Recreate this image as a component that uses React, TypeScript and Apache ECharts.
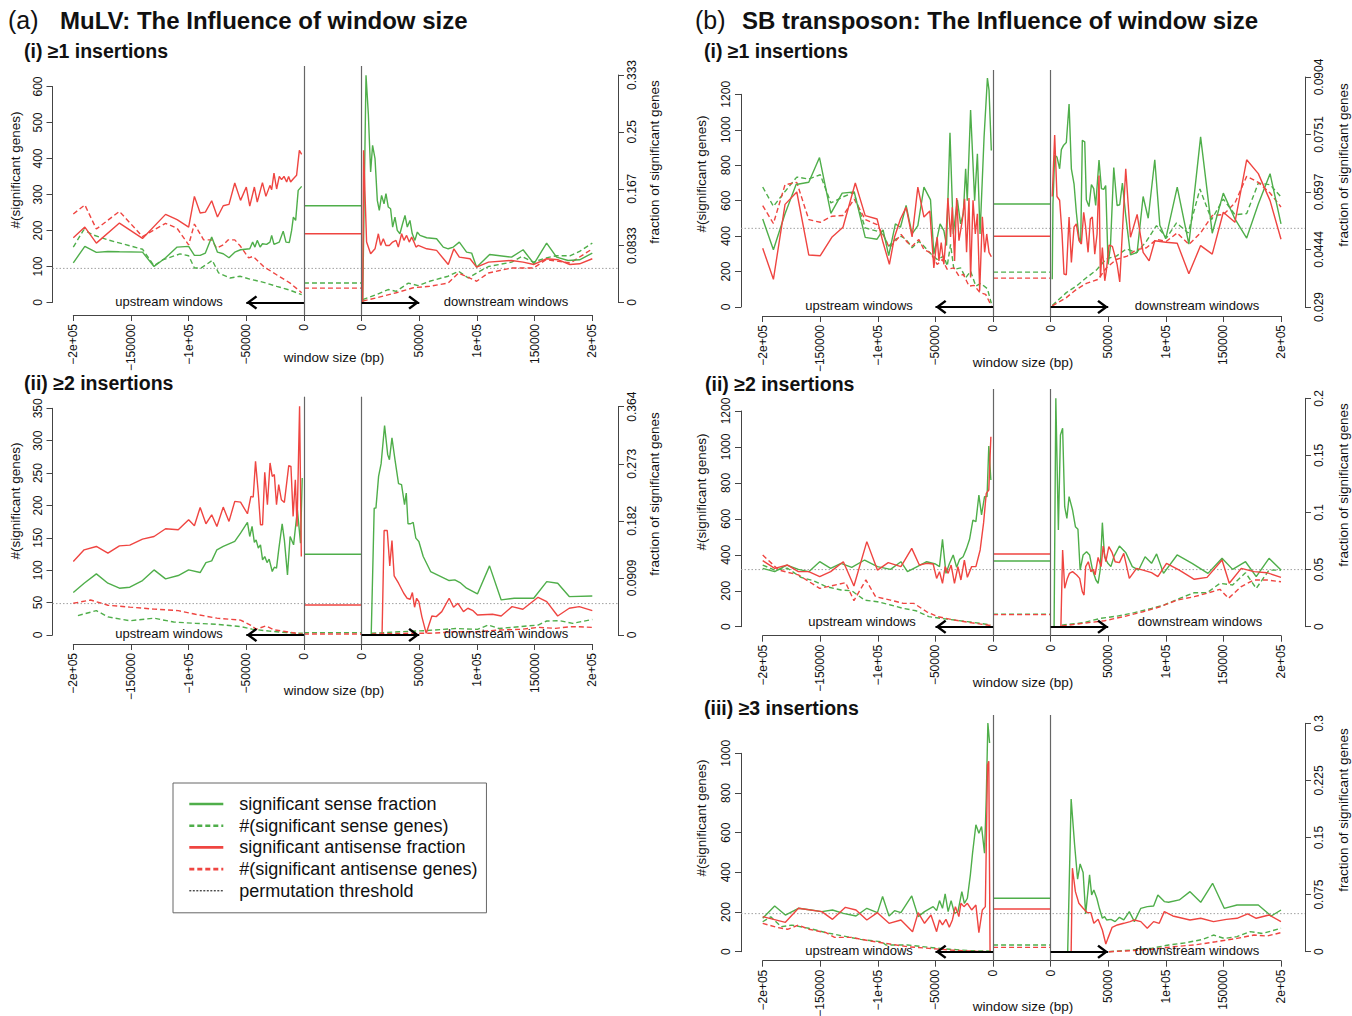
import React, { useEffect, useRef } from "react";
import * as echarts from "echarts";

type Pt = [number, number];

// ---------------- names / labels ----------------
const NAME_SENSE_FRAC = "significant sense fraction";
const NAME_SENSE_N = "#(significant sense genes)";
const NAME_ANTI_FRAC = "significant antisense fraction";
const NAME_ANTI_N = "#(significant antisense genes)";
const NAME_THRESH = "permutation threshold";

const X_TICK_LABELS = ["\u22122e+05", "\u2212150000", "\u22121e+05", "\u221250000", "0", "0", "50000", "1e+05", "150000", "2e+05"];
const THRESHOLD = 0.05;

// fraction-axis tick labels per panel
const A1_FRAC_LABELS = ["0", "0.0833", "0.167", "0.25", "0.333"];
const A2_FRAC_LABELS = ["0", "0.0909", "0.182", "0.273", "0.364"];
const B1_FRAC_LABELS = ["0.029", "0.0444", "0.0597", "0.0751", "0.0904"];
const B2_FRAC_LABELS = ["0", "0.05", "0.1", "0.15", "0.2"];
const B3_FRAC_LABELS = ["0", "0.075", "0.15", "0.225", "0.3"];

// ---------------- data: (a)(i) MuLV >=1 insertions ----------------
// x in kb, fraction values / gene counts
const A1_UP_SENSE_FRAC: Pt[] = [[-200,0.0582],[-190,0.0822],[-180,0.0734],[-170,0.0748],[-160,0.0743],[-140,0.0738],[-130,0.0528],[-120,0.0655],[-110,0.0812],[-100,0.0822],[-95,0.069],[-90,0.069],[-85.5,0.0724],[-80,0.0958],[-75,0.0738],[-70,0.0714],[-65,0.0655],[-60,0.0738],[-55,0.0773],[-47,0.0787],[-44.5,0.0885],[-42.5,0.0812],[-40.5,0.091],[-38,0.0812],[-36,0.0861],[-32.4,0.0851],[-29.5,0.0885],[-28,0.0983],[-26,0.0851],[-21.4,0.0885],[-18,0.1046],[-15.6,0.0885],[-12.7,0.088],[-10.7,0.1056],[-9.2,0.1252],[-7.2,0.1203],[-5,0.1643],[-2,0.1702]];
const A1_UP_SENSE_N: Pt[] = [[-200,154],[-191,202],[-183,188],[-170,174],[-140,148],[-130,102],[-122,119],[-107.5,135],[-100,130],[-95,96],[-89,96],[-79.5,117],[-74,82],[-64,68],[-55.5,73],[-47,65],[-35,56],[-23.7,45],[-12,34],[-2,22]];
const A1_UP_ANTI_FRAC: Pt[] = [[-200,0.0949],[-190,0.1105],[-180,0.087],[-160,0.1164],[-140,0.0939],[-120,0.1291],[-110,0.1213],[-100,0.1105],[-95,0.1555],[-90,0.1311],[-85.5,0.1325],[-80,0.1491],[-75,0.1252],[-70,0.1418],[-65,0.1438],[-60,0.1751],[-55,0.1496],[-50,0.1692],[-47,0.1413],[-43,0.1692],[-40.5,0.1472],[-36,0.1756],[-33,0.1555],[-29.5,0.1716],[-28,0.1653],[-26,0.1897],[-23.7,0.1663],[-21.4,0.1848],[-19.4,0.18],[-17.3,0.1848],[-15,0.1765],[-13.3,0.1848],[-11.6,0.1765],[-9.2,0.1814],[-6.4,0.1863],[-4,0.223],[-2,0.2171]];
const A1_UP_ANTI_N: Pt[] = [[-200,246],[-190,271],[-180,204],[-160,253],[-140,183],[-120,220],[-110,206],[-100,160],[-95,218],[-87,174],[-80,174],[-75.7,151],[-70,160],[-65.6,174],[-60,174],[-55,156],[-48,124],[-44,128],[-35,100],[-23.7,77],[-12,54],[-2,27]];
const A1_MID = { senseFrac: 0.1418, senseN: 54, antiFrac: 0.1007, antiN: 40 };
const A1_DOWN_SENSE_FRAC: Pt[] = [[0.9,0],[3.8,0.333],[5.8,0.2768],[7.8,0.1912],[9.5,0.2303],[11.6,0.2108],[13.6,0.1496],[15.3,0.135],[17.3,0.157],[19.4,0.1447],[21.1,0.1594],[23.1,0.1399],[25.1,0.1374],[26.9,0.1105],[28.9,0.1252],[30.9,0.1056],[33.2,0.1007],[35.5,0.1154],[37.6,0.1276],[39.6,0.1105],[41.9,0.1203],[43.9,0.1007],[46.2,0.091],[48.3,0.1032],[50.6,0.0983],[56.4,0.0949],[65,0.0934],[70.8,0.0812],[75.1,0.0787],[79.5,0.0812],[84.7,0.0885],[91,0.0738],[95.4,0.0724],[99.7,0.0518],[111,0.0704],[130,0.0665],[140,0.0773],[149.4,0.0567],[160.4,0.087],[169,0.0665],[179,0.0616],[189,0.0626],[200,0.0724]];
const A1_DOWN_SENSE_N: Pt[] = [[0.9,8],[13,22],[23,36],[30,31],[40.5,54],[49,47],[59,59],[75,73],[84,87],[92.5,68],[99.7,82],[110,100],[130,112],[139,128],[149,112],[160,124],[169,130],[181,130],[189,142],[200,165]];
const A1_DOWN_ANTI_FRAC: Pt[] = [[0.9,0],[1.7,0.223],[4.3,0.0885],[7.8,0.0714],[11.6,0.0787],[14.5,0.1007],[16.5,0.0836],[18.8,0.0934],[21.1,0.0836],[24,0.0836],[26.9,0.0885],[29.8,0.091],[31.8,0.0812],[34.7,0.1007],[36.7,0.091],[39,0.0983],[41.3,0.0885],[43.4,0.0958],[45.4,0.0885],[47.1,0.0812],[49.1,0.0836],[56.4,0.0787],[65,0.0763],[75.1,0.0557],[80,0.0787],[84.7,0.0665],[94,0.0641],[99.7,0.0518],[110,0.0592],[130,0.0616],[140,0.0592],[149.4,0.0557],[160.4,0.0641],[170.5,0.0626],[180.6,0.0557],[189,0.0567],[200,0.0641]];
const A1_DOWN_ANTI_N: Pt[] = [[0.9,4],[13,13],[30,27],[44.8,41],[59,45],[75,54],[84,82],[99.7,59],[110,82],[130,96],[149,96],[160,119],[181,110],[200,149]];

// ---------------- data: (a)(ii) MuLV >=2 insertions ----------------
const A2_UP_SENSE_FRAC: Pt[] = [[-200,0.0676],[-190.6,0.0825],[-180,0.0974],[-170,0.0825],[-160,0.0745],[-151,0.0761],[-140,0.0867],[-130,0.1037],[-120,0.0894],[-109,0.0947],[-100,0.1037],[-90,0.0995],[-85,0.1154],[-80,0.1181],[-75.5,0.1357],[-70,0.141],[-60,0.149],[-55,0.1623],[-49,0.1793],[-47,0.1569],[-45,0.1729],[-43,0.1474],[-41.5,0.1516],[-39.6,0.1383],[-37.7,0.1436],[-35.9,0.1197],[-34,0.125],[-32,0.1154],[-30.2,0.1208],[-27.5,0.1011],[-25.7,0.108],[-23.8,0.1064],[-21.9,0.1357],[-18.9,0.1771],[-17,0.1516],[-14.3,0.0958],[-12,0.1569],[-9,0.1436],[-5.7,0.1995],[-3,0.1463],[-1.5,0.25]];
const A2_UP_SENSE_N: Pt[] = [[-196,30],[-180,37.6],[-170,28],[-151,22],[-130,26],[-113,20],[-94,18],[-75.5,16.5],[-55,13],[-45,9],[-30,6],[-15,3.6],[-1,2.6]];
const A2_UP_ANTI_FRAC: Pt[] = [[-200,0.117],[-190.6,0.1357],[-180,0.141],[-170,0.1303],[-160,0.142],[-151,0.1431],[-140,0.1527],[-130,0.1569],[-120,0.1692],[-109,0.1676],[-100,0.1835],[-95,0.174],[-90,0.2032],[-85,0.1772],[-80,0.1915],[-75.5,0.1729],[-70,0.2037],[-65,0.1809],[-60,0.2128],[-55,0.2117],[-49,0.1931],[-46,0.2208],[-44,0.2197],[-42,0.2766],[-39.6,0.2261],[-37.7,0.1756],[-35.9,0.1756],[-34,0.2591],[-31.7,0.2075],[-29.4,0.274],[-27.5,0.2527],[-25.7,0.2554],[-23.8,0.2075],[-21.9,0.2394],[-19.6,0.2155],[-17,0.2112],[-13.2,0.2697],[-11.3,0.2687],[-9.4,0.1889],[-7.5,0.2474],[-6,0.1729],[-3.8,0.3644],[-2.3,0.125]];
const A2_UP_ANTI_N: Pt[] = [[-200,49],[-185,54],[-170,46],[-151,43],[-130,40],[-109,37.6],[-94,32],[-75.5,26],[-55,23],[-46,15],[-41.5,9],[-33,14],[-26,8],[-15,5],[-1,1]];
const A2_MID = { senseFrac: 0.1287, senseN: 3.6, antiFrac: 0.0479, antiN: 1.5 };
const A2_DOWN_SENSE_FRAC: Pt[] = [[0,0],[8.3,0],[10.9,0.2021],[12.4,0.2021],[14.7,0.2527],[16.9,0.2729],[19.9,0.3336],[22.6,0.2873],[24.1,0.2793],[26.3,0.3139],[28.9,0.2793],[32,0.241],[34.6,0.2394],[37.2,0.2075],[38.7,0.2261],[40.2,0.1772],[42.5,0.1772],[44.7,0.1793],[47,0.1543],[49.6,0.149],[53.4,0.125],[59.8,0.1011],[75.9,0.0867],[80.8,0.0878],[85.3,0.0835],[91,0.0745],[100.4,0.0654],[110.9,0.1101],[121,0.0559],[132.3,0.0585],[149.2,0.0585],[160.5,0.0851],[170,0.0825],[180,0.0612],[200,0.0622]];
const A2_DOWN_SENSE_N: Pt[] = [[8.3,2.6],[32.7,5],[55,6.7],[81.6,10],[100.4,8.7],[109.8,15.4],[119,10],[138,13],[153,15.4],[160.5,21.6],[171.8,22],[183,18],[200,24]];
const A2_DOWN_ANTI_FRAC: Pt[] = [[0,0],[17.7,0],[19.5,0.1665],[22.2,0.1665],[24.4,0.1101],[26.3,0.1505],[28.2,0.0942],[32,0.0825],[36.5,0.0665],[39.5,0.0585],[42.1,0.0569],[44,0.0676],[45.9,0.0442],[47.7,0.0585],[49.6,0.0532],[52.2,0.0293],[56,0.0027],[60.9,0.0303],[64.7,0.0293],[69.5,0.0372],[75.9,0.0585],[79.7,0.0442],[83.5,0.0505],[88.3,0.0372],[92.1,0.0426],[96.6,0.0388],[100.4,0.0319],[113.5,0.033],[121,0.0303],[130.4,0.0452],[139.8,0.041],[153,0.0601],[160.5,0.0532],[170,0.0303],[180,0.0426],[188.7,0.0452],[200,0.0388]];
const A2_DOWN_ANTI_N: Pt[] = [[8.3,1.5],[40,2.6],[59,2.6],[81.6,5],[100.4,5],[119,7.7],[138,8.7],[153,11.8],[168,10.3],[183,13],[200,11.8]];

// ---------------- data: (b)(i) SB >=1 insertions ----------------
const B1_UP_SENSE_FRAC: Pt[] = [[-200,0.0525],[-190.7,0.0443],[-180.6,0.0539],[-171,0.0617],[-160,0.0623],[-150.7,0.0689],[-140.8,0.054],[-131,0.0594],[-120.5,0.0597],[-111,0.0476],[-100.7,0.0471],[-95.5,0.0496],[-90.6,0.0427],[-84.8,0.0512],[-80.4,0.0503],[-75.5,0.0561],[-70.3,0.0485],[-65.3,0.0507],[-60,0.061],[-54.3,0.0576],[-51.4,0.0431],[-46,0.0512],[-42.7,0.0494],[-40.4,0.0454],[-37.4,0.0755],[-34.5,0.0485],[-31,0.0576],[-28.2,0.0512],[-25.8,0.0539],[-23.8,0.0659],[-22.4,0.0574],[-19.5,0.0816],[-16,0.0574],[-13.6,0.0699],[-11.3,0.0485],[-7.8,0.0744],[-4.9,0.0901],[-3.5,0.0869],[-1.5,0.0708]];
const B1_UP_SENSE_N: Pt[] = [[-200,677],[-190.7,568],[-180.6,652],[-170.4,733],[-160,722],[-150,746],[-140.8,587],[-130.3,621],[-121,647],[-111,446],[-100.7,428],[-95.5,409],[-90.6,343],[-84.8,381],[-79.8,399],[-75.5,381],[-70.3,334],[-64.4,371],[-60,343],[-54.3,302],[-48.5,268],[-42.7,287],[-39.8,231],[-36.9,353],[-34,212],[-28.2,221],[-23.8,165],[-19.5,202],[-15,118],[-10.7,133],[-4.9,103],[-1.5,21]];
const B1_UP_ANTI_FRAC: Pt[] = [[-200,0.0447],[-190.7,0.0364],[-180.6,0.0564],[-170.4,0.0597],[-160,0.0429],[-150,0.0427],[-140,0.0476],[-130.3,0.0503],[-119.6,0.0621],[-111,0.0534],[-100.7,0.0525],[-95.5,0.0462],[-90,0.0404],[-85.6,0.0476],[-80.4,0.0525],[-75.5,0.0556],[-70.3,0.0477],[-65.3,0.061],[-60,0.053],[-54.9,0.0546],[-51.4,0.0394],[-48.5,0.0477],[-47,0.0413],[-45,0.0462],[-42.7,0.0404],[-40.9,0.0476],[-39.2,0.0581],[-36.9,0.0477],[-35.4,0.0556],[-33.4,0.0413],[-31.6,0.0581],[-29.6,0.0467],[-26.7,0.0521],[-24.7,0.0579],[-23,0.0436],[-20.9,0.0581],[-19.5,0.0369],[-17.4,0.0575],[-15.4,0.0485],[-13.6,0.0539],[-11.6,0.0333],[-9.3,0.0531],[-7.3,0.0436],[-5.5,0.0485],[-3.5,0.0436],[-1.5,0.0424]];
const B1_UP_ANTI_N: Pt[] = [[-200,572],[-190.7,471],[-180.6,690],[-170.4,703],[-160,493],[-150,478],[-140,512],[-130.3,516],[-120.5,609],[-111,493],[-100.7,465],[-95.5,409],[-90,334],[-84.8,371],[-79.8,409],[-74.6,366],[-70.3,343],[-64.4,381],[-60,324],[-54.3,306],[-48.5,240],[-44,268],[-39.8,212],[-34,221],[-29.6,174],[-25.8,184],[-20.9,118],[-16.5,122],[-11.3,81],[-6.4,71],[-1.5,6]];
const B1_MID = { senseFrac: 0.0565, senseN: 197, antiFrac: 0.0479, antiN: 163 };
const B1_DOWN_SENSE_FRAC: Pt[] = [[1.4,0.0364],[2,0.0565],[3.5,0.0695],[5.5,0.069],[7.8,0.0659],[9.3,0.071],[11.3,0.0722],[13.6,0.0729],[16,0.0832],[18,0.0659],[20.3,0.0619],[22.3,0.0543],[24.6,0.0476],[26.1,0.046],[27.5,0.0735],[29.6,0.0731],[31,0.0576],[33.3,0.0558],[35.4,0.0617],[37.4,0.0606],[39.1,0.0561],[42,0.0682],[44.1,0.0606],[46.1,0.0604],[47.8,0.0614],[49.9,0.0404],[51.9,0.0451],[54.8,0.0662],[57.7,0.0561],[60,0.0563],[62.3,0.0621],[65.2,0.0534],[69.3,0.0429],[75.1,0.0436],[80.3,0.0585],[84.7,0.0527],[90.4,0.0683],[94.8,0.0508],[99.9,0.0472],[109.9,0.061],[120,0.0458],[130.2,0.0744],[140.3,0.0487],[149.9,0.0594],[160,0.0525],[170.2,0.0474],[180.3,0.0565],[190.5,0.0646],[200,0.0512]];
const B1_DOWN_SENSE_N: Pt[] = [[1.4,9],[13.6,81],[22.3,118],[31,165],[39.7,208],[48.4,272],[57.1,287],[65.8,328],[74.5,306],[83.2,371],[91.9,459],[100.6,390],[109.3,474],[119.4,418],[129.6,666],[139.7,493],[149.9,609],[160,521],[170.2,527],[180.3,699],[190.5,690],[200,621]];
const B1_DOWN_ANTI_FRAC: Pt[] = [[1.4,0.0585],[3.5,0.0749],[5.5,0.0585],[7.8,0.0575],[9.9,0.0485],[11.6,0.0378],[13.6,0.0376],[16,0.053],[18,0.0409],[20.3,0.0503],[22.3,0.0512],[24.6,0.0467],[26.7,0.0458],[28.7,0.0543],[30.4,0.0503],[32.5,0.0436],[34.5,0.0525],[36.2,0.053],[38.3,0.0431],[40.3,0.0485],[42,0.0641],[43.2,0.0369],[44.9,0.0449],[47,0.036],[48.4,0.0388],[50.7,0.0455],[53.6,0.0452],[57.7,0.0404],[60,0.0357],[65.2,0.0659],[69.3,0.0476],[75.1,0.0537],[80.3,0.0436],[85.5,0.0413],[90.4,0.0467],[99.9,0.0463],[109.9,0.046],[120,0.0379],[130.2,0.0454],[140.3,0.0431],[149.9,0.0543],[160,0.0516],[170.2,0.0683],[180.3,0.0646],[190.5,0.0574],[200,0.0471]];
const B1_DOWN_ANTI_N: Pt[] = [[1.4,6],[13.6,53],[22.3,99],[31,133],[41.2,156],[48.4,221],[57.1,268],[66.4,287],[74.5,324],[83.2,334],[91.9,381],[100.6,371],[109.9,418],[120,353],[130.2,418],[140.3,516],[149.9,521],[160,587],[170.2,737],[180.3,703],[190.5,643],[200,564]];

// ---------------- data: (b)(ii) SB >=2 insertions ----------------
const B2_UP_SENSE_FRAC: Pt[] = [[-200,0.0511],[-189.6,0.0482],[-179,0.054],[-169,0.0502],[-160,0.0482],[-150.5,0.0569],[-141,0.0511],[-132,0.0555],[-122.7,0.052],[-111.5,0.0584],[-100.4,0.0526],[-89,0.0502],[-80,0.0569],[-74.3,0.0482],[-65,0.0531],[-57.6,0.0569],[-50,0.0549],[-46.5,0.0526],[-43.9,0.0765],[-40.9,0.0467],[-38,0.0549],[-34.6,0.0628],[-31.6,0.052],[-29,0.059],[-26,0.0613],[-23,0.0686],[-20.4,0.0765],[-17.5,0.0934],[-14.9,0.092],[-12.3,0.1153],[-10,0.0978],[-7.4,0.1139],[-5.2,0.1139],[-3.7,0.1583],[-1.9,0.1285]];
const B2_UP_SENSE_N: Pt[] = [[-200,343],[-189.6,315],[-178.4,325],[-167,275],[-156,256],[-145,223],[-132,204],[-122.7,200],[-111.5,148],[-100.4,139],[-89,121],[-78,102],[-67,89],[-55.8,56],[-44.6,46],[-33.5,37],[-22.3,28],[-11.2,19],[-1.9,9]];
const B2_UP_ANTI_FRAC: Pt[] = [[-200,0.0578],[-189.6,0.0511],[-178.4,0.054],[-169,0.0482],[-160,0.0482],[-150.5,0.0438],[-141,0.0482],[-130,0.0569],[-120.8,0.0356],[-109.6,0.0745],[-100.4,0.0496],[-91,0.0561],[-80,0.0526],[-70.6,0.0686],[-64,0.054],[-57.6,0.0555],[-52,0.0549],[-49,0.0423],[-46.5,0.0482],[-43.9,0.038],[-41.6,0.0526],[-39,0.0467],[-36.4,0.054],[-33.5,0.038],[-30.5,0.0526],[-27.9,0.0409],[-24.9,0.0584],[-22.3,0.0432],[-18.6,0.0526],[-14.9,0.0526],[-11.2,0.0672],[-8.2,0.0911],[-5.9,0.1168],[-3.7,0.1197],[-1.9,0.1664]];
const B2_UP_ANTI_N: Pt[] = [[-200,399],[-186,315],[-169,288],[-150.5,213],[-128,245],[-120.8,145],[-110.4,260],[-102,167],[-89,148],[-78,130],[-68.8,130],[-57.6,83],[-48.3,56],[-33.5,37],[-18.6,22],[-1.9,6]];
const B2_MID = { senseFrac: 0.0575, senseN: 69, antiFrac: 0.0637, antiN: 67 };
const B2_DOWN_SENSE_FRAC: Pt[] = [[0,0],[3,0],[4.5,0.2],[6.7,0.0847],[8.5,0.1679],[10.4,0.1737],[12.2,0.1051],[14.1,0.0949],[16,0.1139],[19,0.1022],[21.5,0.0876],[23.7,0.0853],[25.6,0.0496],[28.2,0.0628],[31.2,0.0657],[33.8,0.0628],[36.4,0.0496],[39.3,0.0409],[41.2,0.038],[43,0.0496],[44.9,0.0911],[46.8,0.0613],[49.7,0.0555],[52.3,0.0526],[54.9,0.0613],[59.7,0.0707],[65.3,0.0648],[70.9,0.0526],[76.4,0.0496],[82,0.0613],[87.6,0.0555],[92,0.0637],[98,0.0467],[109.8,0.0628],[122.8,0.0555],[136.6,0.0467],[148.8,0.0599],[158,0.0502],[169.2,0.0569],[178.5,0.0438],[189.6,0.0599],[200,0.0496]];
const B2_DOWN_SENSE_N: Pt[] = [[9.6,9],[28.2,22],[43,46],[57.9,59],[72.7,78],[87.6,102],[98.7,121],[109.8,152],[124.7,189],[135.8,189],[147,241],[158,232],[169.2,300],[178.5,213],[189.6,315],[200,315]];
const B2_DOWN_ANTI_FRAC: Pt[] = [[0,0],[8.9,0],[10.4,0.0672],[12.2,0.0336],[14.5,0.0423],[16.3,0.0467],[19,0.0482],[22.6,0.0453],[25.2,0.0423],[27.5,0.0307],[29,0.0277],[30.4,0.0526],[32.7,0.0569],[34.9,0.0482],[37.1,0.0502],[38.6,0.0453],[41.2,0.0607],[43.8,0.0526],[45.6,0.0707],[47.9,0.0569],[50.5,0.0701],[53.4,0.0648],[56,0.0569],[59.7,0.0561],[63.5,0.0642],[68.3,0.0423],[74.6,0.0511],[80.2,0.0496],[87.6,0.0473],[93.1,0.0438],[100.6,0.0555],[111.7,0.0496],[124.7,0.0415],[135.8,0.0432],[148.8,0.0584],[155.1,0.038],[165.5,0.0511],[176.6,0.0482],[187.8,0.0473],[200,0.0432]];
const B2_DOWN_ANTI_N: Pt[] = [[9.6,4],[28.2,19],[46.8,33],[65.3,59],[80.2,83],[95,111],[109.8,148],[124.7,167],[135.8,186],[147,208],[154.4,158],[165.5,223],[176.6,260],[187.8,260],[200,250]];

// ---------------- data: (b)(iii) SB >=3 insertions ----------------
const B3_UP_SENSE_FRAC: Pt[] = [[-200,0.0439],[-189.6,0.0601],[-180.3,0.0482],[-169,0.057],[-158,0.0548],[-148.7,0.0526],[-139.4,0.0548],[-130,0.0504],[-119,0.0469],[-109.6,0.057],[-100.4,0.0513],[-95.9,0.0724],[-90.3,0.0469],[-85.5,0.0539],[-80,0.0513],[-70.6,0.0732],[-65,0.0461],[-59.5,0.0526],[-52,0.0592],[-49,0.0539],[-46.5,0.0671],[-43.9,0.057],[-41.6,0.0759],[-39,0.0526],[-36.4,0.0671],[-33.5,0.0504],[-30.5,0.0526],[-27.1,0.079],[-24.9,0.0636],[-22.3,0.0702],[-19.7,0.1009],[-17.8,0.1294],[-14.9,0.1667],[-12.3,0.1557],[-10,0.1645],[-7.4,0.1294],[-5.9,0.2018],[-4.5,0.3004],[-3,0.2741]];
const B3_UP_SENSE_N: Pt[] = [[-200,151],[-193,176],[-184,126],[-174.7,134],[-160,118],[-145,96],[-130,79],[-115,62],[-96.6,50],[-93,34],[-74.3,34],[-55.8,22],[-37,12],[-18.6,5],[-1.9,3]];
const B3_UP_ANTI_FRAC: Pt[] = [[-200,0.0461],[-180.3,0.0386],[-169,0.057],[-148.7,0.0526],[-139.4,0.0425],[-128.2,0.0583],[-119,0.0548],[-109.6,0.0417],[-100.4,0.0513],[-90.3,0.0373],[-80,0.0417],[-69.9,0.0263],[-65,0.0513],[-59.5,0.0373],[-53.9,0.0482],[-49,0.0263],[-46.5,0.0417],[-43.9,0.0351],[-40.9,0.0425],[-38,0.032],[-35.3,0.0417],[-32.7,0.0592],[-29.7,0.0461],[-27.9,0.0636],[-25.3,0.0592],[-22.3,0.0636],[-18.6,0.0548],[-14.9,0.0614],[-12.3,0.025],[-9.3,0.0548],[-6.7,0.0592],[-4.8,0.2456],[-3.7,0.25],[-2.6,0]];
const B3_UP_ANTI_N: Pt[] = [[-200,143],[-188,123],[-178.4,113],[-169,134],[-160,113],[-145,96],[-137.6,72],[-122.7,72],[-107.8,55],[-93,42],[-74.3,25],[-55.8,17],[-37,8],[-18.6,3],[-1.9,0]];
const B3_MID = { senseFrac: 0.0702, senseN: 34, antiFrac: 0.0561, antiN: 22 };
const B3_DOWN_SENSE_FRAC: Pt[] = [[0,0],[14.8,0],[17.8,0.2004],[20.8,0.1404],[23.4,0.0952],[25.6,0.1153],[28.2,0.1039],[30.4,0.0496],[33.8,0.1009],[35.6,0.0746],[37.5,0.0811],[40.1,0.0702],[42.3,0.057],[44.9,0.0439],[46.8,0.0461],[48.6,0.0417],[52.3,0.0425],[56,0.0395],[59.7,0.0452],[63.5,0.0417],[68.3,0.0526],[72.7,0.0395],[78.3,0.057],[83.9,0.0592],[89.4,0.0601],[93.1,0.0746],[98.7,0.0658],[102.4,0.0649],[111.7,0.068],[121,0.0789],[130.3,0.0649],[140.6,0.0899],[150.7,0.057],[161.8,0.0614],[180.3,0.0614],[191.5,0.0469],[200,0.0548]];
const B3_DOWN_SENSE_N: Pt[] = [[2,0],[50.5,0],[69,8],[87.6,17],[102.4,34],[117.3,45],[132.1,62],[141.4,84],[150.7,67],[161.8,76],[173,101],[184,92],[200,118]];
const B3_DOWN_ANTI_FRAC: Pt[] = [[0,0],[17.8,0],[18.9,0.1097],[21.5,0.0789],[24.5,0.0636],[28.2,0.057],[31.9,0.0513],[34.9,0.0513],[37.5,0.0373],[41.2,0.0425],[44.9,0.0285],[47.9,0.0101],[49.7,0.0175],[53.4,0.032],[57.9,0.0351],[63.5,0.0373],[69,0.0395],[72.7,0.0417],[78.3,0.0395],[83.9,0.0307],[89.4,0.0395],[94.3,0.0373],[98.7,0.0526],[106.1,0.0469],[121,0.0417],[130.3,0.0439],[141.4,0.0395],[152.6,0.0425],[161.8,0.0439],[171.1,0.0496],[178.5,0.0439],[189.6,0.0482],[200,0.0395]];
const B3_DOWN_ANTI_N: Pt[] = [[2,0],[50.5,0],[69,5],[87.6,12],[106,25],[124.7,34],[143.3,50],[161.8,67],[176.6,84],[187.8,79],[200,96]];

// ---------------- styling ----------------
const GREEN = "#4fae4a";
const RED = "#ef4541";
const FONT = "'Liberation Sans', Arial, Helvetica, sans-serif";
const TXT = "#111";
const AXIS_COLOR = "#444";
const GAP = 50000; // width of the gene-body gap in axis units
const X_MIN = -200000;
const X_MAX = 250000;
const ARROW_PATH = "path://M10,0 L20,12 L17.4,14 L10,5 L2.6,14 L0,12 Z";

interface Layout {
  plotLeft: number; plotRight: number; plotTop: number; axisY: number;
  xMinPx: number; xMaxPx: number; zeroY: number; countTopPx: number; fracTopPx: number;
  leftTitle: [number, number]; rightTitle: [number, number]; xTitle: [number, number];
  upText: [number, number]; downText: [number, number]; sub: [number, number];
}

const PANELS = [
  {
    title: "(i) \u22651 insertions",
    countTop: 600, countStep: 100, fracMin: 0, fracStep: 1 / 12, fracLabels: A1_FRAC_LABELS,
    up: [A1_UP_SENSE_FRAC, A1_UP_SENSE_N, A1_UP_ANTI_FRAC, A1_UP_ANTI_N], mid: A1_MID,
    down: [A1_DOWN_SENSE_FRAC, A1_DOWN_SENSE_N, A1_DOWN_ANTI_FRAC, A1_DOWN_ANTI_N],
    L: { plotLeft: 52.5, plotRight: 618, plotTop: 66, axisY: 315, xMinPx: 73.3, xMaxPx: 592.3, zeroY: 302.5, countTopPx: 86.5, fracTopPx: 75,
      leftTitle: [15.5, 170], rightTitle: [654, 162], xTitle: [334, 357], upText: [169, 301], downText: [506, 301], sub: [24, 51] } as Layout,
  },
  {
    title: "(ii) \u22652 insertions",
    countTop: 350, countStep: 50, fracMin: 0, fracStep: 1 / 11, fracLabels: A2_FRAC_LABELS,
    up: [A2_UP_SENSE_FRAC, A2_UP_SENSE_N, A2_UP_ANTI_FRAC, A2_UP_ANTI_N], mid: A2_MID,
    down: [A2_DOWN_SENSE_FRAC, A2_DOWN_SENSE_N, A2_DOWN_ANTI_FRAC, A2_DOWN_ANTI_N],
    L: { plotLeft: 52.5, plotRight: 618, plotTop: 396.7, axisY: 644, xMinPx: 73.3, xMaxPx: 592.3, zeroY: 635, countTopPx: 408.3, fracTopPx: 406.7,
      leftTitle: [15.5, 501], rightTitle: [654, 494], xTitle: [334, 690], upText: [169, 633], downText: [506, 633], sub: [24, 383] } as Layout,
  },
  {
    title: "(i) \u22651 insertions",
    countTop: 1200, countStep: 200, fracMin: 0.029, fracStep: 0.01535, fracLabels: B1_FRAC_LABELS,
    up: [B1_UP_SENSE_FRAC, B1_UP_SENSE_N, B1_UP_ANTI_FRAC, B1_UP_ANTI_N], mid: B1_MID,
    down: [B1_DOWN_SENSE_FRAC, B1_DOWN_SENSE_N, B1_DOWN_ANTI_FRAC, B1_DOWN_ANTI_N],
    L: { plotLeft: 741, plotRight: 1305, plotTop: 70, axisY: 316, xMinPx: 762.7, xMaxPx: 1281, zeroY: 307, countTopPx: 94.3, fracTopPx: 77,
      leftTitle: [701.5, 174], rightTitle: [1343, 165], xTitle: [1023, 362], upText: [859, 305], downText: [1197, 305], sub: [704, 51] } as Layout,
  },
  {
    title: "(ii) \u22652 insertions",
    countTop: 1200, countStep: 200, fracMin: 0, fracStep: 0.05, fracLabels: B2_FRAC_LABELS,
    up: [B2_UP_SENSE_FRAC, B2_UP_SENSE_N, B2_UP_ANTI_FRAC, B2_UP_ANTI_N], mid: B2_MID,
    down: [B2_DOWN_SENSE_FRAC, B2_DOWN_SENSE_N, B2_DOWN_ANTI_FRAC, B2_DOWN_ANTI_N],
    L: { plotLeft: 741, plotRight: 1305, plotTop: 389, axisY: 635.7, xMinPx: 762.7, xMaxPx: 1281, zeroY: 626.7, countTopPx: 411, fracTopPx: 398.3,
      leftTitle: [701.5, 492], rightTitle: [1343, 485], xTitle: [1023, 682], upText: [862, 621], downText: [1200, 621], sub: [705, 384] } as Layout,
  },
  {
    title: "(iii) \u22653 insertions",
    countTop: 1000, countStep: 200, fracMin: 0, fracStep: 0.075, fracLabels: B3_FRAC_LABELS,
    up: [B3_UP_SENSE_FRAC, B3_UP_SENSE_N, B3_UP_ANTI_FRAC, B3_UP_ANTI_N], mid: B3_MID,
    down: [B3_DOWN_SENSE_FRAC, B3_DOWN_SENSE_N, B3_DOWN_ANTI_FRAC, B3_DOWN_ANTI_N],
    L: { plotLeft: 741, plotRight: 1305, plotTop: 715, axisY: 960.7, xMinPx: 762.7, xMaxPx: 1281, zeroY: 951.7, countTopPx: 753.3, fracTopPx: 723.3,
      leftTitle: [701.5, 818], rightTitle: [1343, 810], xTitle: [1023, 1006], upText: [859, 950], downText: [1197, 950], sub: [704, 708] } as Layout,
  },
];

function text(x: number, y: number, s: string, size: number, opts: any = {}) {
  const align = opts.align || "center";
  return {
    type: "text", x, y, rotation: opts.rot || 0, silent: true, z: 10,
    style: {
      text: s, fontSize: size, fontFamily: FONT, fontWeight: opts.bold ? "bold" : "normal", fill: TXT,
      align, verticalAlign: "middle", textAlign: align, textVerticalAlign: "middle",
    },
  };
}

function joinSeg(up: Pt[], mid: number, down: Pt[]) {
  return [
    ...up.map(([k, v]) => [k * 1000, v]),
    [0, "-"],
    [0, mid], [GAP, mid],
    [GAP, "-"],
    ...down.map(([k, v]) => [k * 1000 + GAP, v]),
  ];
}

function buildOption() {
  const grid: any[] = [];
  const xAxis: any[] = [];
  const yAxis: any[] = [];
  const series: any[] = [];
  const graphic: any[] = [];
  const labelStyle = { fontFamily: FONT, fontSize: 12, color: TXT };

  PANELS.forEach((P) => {
    const L = P.L;
    // ---- plot region grid (hidden axes define the data mapping)
    const gPlot = grid.length;
    grid.push({ left: L.plotLeft, top: L.plotTop, width: L.plotRight - L.plotLeft, height: L.axisY - L.plotTop, outerBoundsMode: "none" });
    const pxPerUnit = (L.xMaxPx - L.xMinPx) / (X_MAX - X_MIN);
    const xMin = X_MIN - (L.xMinPx - L.plotLeft) / pxPerUnit;
    const xMax = X_MAX + (L.plotRight - L.xMaxPx) / pxPerUnit;
    const xPlot = xAxis.length;
    xAxis.push({ gridIndex: gPlot, type: "value", min: xMin, max: xMax, show: false });
    const cPer = P.countTop / (L.zeroY - L.countTopPx);
    const yCount = yAxis.length;
    yAxis.push({ gridIndex: gPlot, type: "value", min: -(L.axisY - L.zeroY) * cPer, max: (L.zeroY - L.plotTop) * cPer, show: false });
    const fPer = (4 * P.fracStep) / (L.zeroY - L.fracTopPx);
    const yFrac = yAxis.length;
    yAxis.push({ gridIndex: gPlot, type: "value", min: P.fracMin - (L.axisY - L.zeroY) * fPer, max: P.fracMin + (L.zeroY - L.plotTop) * fPer, show: false });

    const line = (name: string, data: any[], yIdx: number, color: string, dashed: boolean) => ({
      type: "line", name, xAxisIndex: xPlot, yAxisIndex: yIdx, data, symbol: "none", showSymbol: false,
      lineStyle: { color, width: 1.4, type: dashed ? [5, 3] : "solid" }, itemStyle: { color },
      silent: true, z: 3, emphasis: { disabled: true }, connectNulls: false,
    });

    // threshold (drawn first, underneath)
    series.push({
      type: "line", name: NAME_THRESH, xAxisIndex: xPlot, yAxisIndex: yFrac,
      data: [[xMin, THRESHOLD], [xMax, THRESHOLD]], symbol: "none", silent: true, z: 1,
      lineStyle: { color: "#a0a0a0", width: 1, type: [1.5, 2] }, itemStyle: { color: "#000" }, emphasis: { disabled: true },
    });
    // vertical gene-boundary lines
    series.push({
      type: "line", name: "_bounds", xAxisIndex: xPlot, yAxisIndex: yCount, data: [], silent: true,
      markLine: {
        silent: true, symbol: ["none", "none"], label: { show: false }, animation: false,
        lineStyle: { color: "#666", width: 1.2, type: "solid" },
        data: [{ xAxis: 0 }, { xAxis: GAP }],
      },
    });
    // upstream / downstream arrows
    series.push({
      type: "line", name: "_arrows", xAxisIndex: xPlot, yAxisIndex: yCount, data: [], silent: true,
      markLine: {
        silent: true, symbol: ["none", ARROW_PATH], symbolSize: [14, 11], symbolOffset: [[0, 0], [0, 5.5]],
        label: { show: false }, animation: false,
        lineStyle: { color: "#000", width: 2, type: "solid" },
        data: [
          [{ coord: [0, 0] }, { coord: [-50000, 0] }],
          [{ coord: [GAP, 0] }, { coord: [GAP + 50000, 0] }],
        ],
      },
    });

    series.push(line(NAME_SENSE_N, joinSeg(P.up[1], P.mid.senseN, P.down[1]), yCount, GREEN, true));
    series.push(line(NAME_ANTI_N, joinSeg(P.up[3], P.mid.antiN, P.down[3]), yCount, RED, true));
    series.push(line(NAME_SENSE_FRAC, joinSeg(P.up[0], P.mid.senseFrac, P.down[0]), yFrac, GREEN, false));
    series.push(line(NAME_ANTI_FRAC, joinSeg(P.up[2], P.mid.antiFrac, P.down[2]), yFrac, RED, false));

    // ---- bottom x axis
    const gX = grid.length;
    grid.push({ left: L.xMinPx, top: L.axisY - 1, width: L.xMaxPx - L.xMinPx, height: 1, outerBoundsMode: "none" });
    xAxis.push({
      gridIndex: gX, type: "value", position: "bottom", min: X_MIN, max: X_MAX, interval: 50000,
      axisLine: { show: true, onZero: false, lineStyle: { color: AXIS_COLOR, width: 1 } },
      axisTick: { show: true, length: 6, lineStyle: { color: AXIS_COLOR } },
      splitLine: { show: false },
      axisLabel: { ...labelStyle, rotate: 90, margin: 9, showMinLabel: true, showMaxLabel: true,
        formatter: (v: number) => X_TICK_LABELS[Math.round((v - X_MIN) / 50000)] },
    });
    yAxis.push({ gridIndex: gX, type: "value", show: false });

    // ---- left count axis
    const gL = grid.length;
    grid.push({ left: L.plotLeft, top: L.countTopPx, width: 1, height: L.zeroY - L.countTopPx, outerBoundsMode: "none" });
    xAxis.push({ gridIndex: gL, type: "value", show: false });
    yAxis.push({
      gridIndex: gL, type: "value", position: "left", min: 0, max: P.countTop, interval: P.countStep,
      axisLine: { show: true, onZero: false, lineStyle: { color: AXIS_COLOR, width: 1 } },
      axisTick: { show: true, length: 6, lineStyle: { color: AXIS_COLOR } },
      splitLine: { show: false },
      axisLabel: { ...labelStyle, rotate: 90, margin: 9, showMinLabel: true, showMaxLabel: true,
        formatter: (v: number) => String(Math.round(v)) },
    });

    // ---- right fraction axis
    const gR = grid.length;
    grid.push({ left: L.plotRight - 1, top: L.fracTopPx, width: 1, height: L.zeroY - L.fracTopPx, outerBoundsMode: "none" });
    xAxis.push({ gridIndex: gR, type: "value", show: false });
    yAxis.push({
      gridIndex: gR, type: "value", position: "right", min: 0, max: 4, interval: 1,
      axisLine: { show: true, onZero: false, lineStyle: { color: AXIS_COLOR, width: 1 } },
      axisTick: { show: true, length: 6, lineStyle: { color: AXIS_COLOR } },
      splitLine: { show: false },
      axisLabel: { ...labelStyle, rotate: 90, margin: 8, showMinLabel: true, showMaxLabel: true,
        formatter: (v: number) => P.fracLabels[Math.round(v)] },
    });

    // ---- texts
    graphic.push(text(L.sub[0], L.sub[1], P.title, 19.5, { bold: true, align: "left" }));
    graphic.push(text(L.leftTitle[0], L.leftTitle[1], "#(significant genes)", 13.5, { rot: Math.PI / 2 }));
    graphic.push(text(L.rightTitle[0], L.rightTitle[1], "fraction of significant genes", 13.5, { rot: Math.PI / 2 }));
    graphic.push(text(L.xTitle[0], L.xTitle[1], "window size (bp)", 13.5));
    graphic.push(text(L.upText[0], L.upText[1], "upstream windows", 13));
    graphic.push(text(L.downText[0], L.downText[1], "downstream windows", 13));
  });

  graphic.push(text(8, 20, "(a)", 25, { align: "left" }));
  graphic.push(text(60, 20, "MuLV: The Influence of window size", 24, { bold: true, align: "left" }));
  graphic.push(text(695, 20, "(b)", 25, { align: "left" }));
  graphic.push(text(742, 20, "SB transposon: The Influence of window size", 24, { bold: true, align: "left" }));

  const hiddenSymbol = { color: "rgba(0,0,0,0)", borderWidth: 0, opacity: 0 };

  return {
    animation: false,
    backgroundColor: "#fff",
    textStyle: { fontFamily: FONT },
    grid, xAxis, yAxis, series, graphic,
    legend: {
      show: true, orient: "vertical", left: 173, top: 783,
      padding: [12, 9, 13, 15], itemWidth: 34, itemHeight: 12, itemGap: 3.7,
      borderColor: "#666", borderWidth: 1, backgroundColor: "#fff",
      selectedMode: false,
      textStyle: { fontFamily: FONT, fontSize: 18, color: TXT, lineHeight: 18, padding: [0, 0, 0, 11] },
      itemStyle: hiddenSymbol,
      lineStyle: { width: 2.6 },
      data: [
        { name: NAME_SENSE_FRAC, itemStyle: hiddenSymbol },
        { name: NAME_SENSE_N, itemStyle: hiddenSymbol },
        { name: NAME_ANTI_FRAC, itemStyle: hiddenSymbol },
        { name: NAME_ANTI_N, itemStyle: hiddenSymbol },
        { name: NAME_THRESH, itemStyle: hiddenSymbol, lineStyle: { color: "#000", width: 1, type: [2, 1.5] } },
      ],
    },
  };
}

export default function App() {
  const ref = useRef<HTMLDivElement>(null);
  useEffect(() => {
    if (!ref.current) return;
    const chart = echarts.init(ref.current, undefined, { renderer: "svg" });
    chart.setOption(buildOption() as any);
    return () => chart.dispose();
  }, []);
  return (
    <div
      ref={ref}
      style={{ position: "absolute", left: 0, top: 0, width: 1352, height: 1016, background: "#fff" }}
    />
  );
}
